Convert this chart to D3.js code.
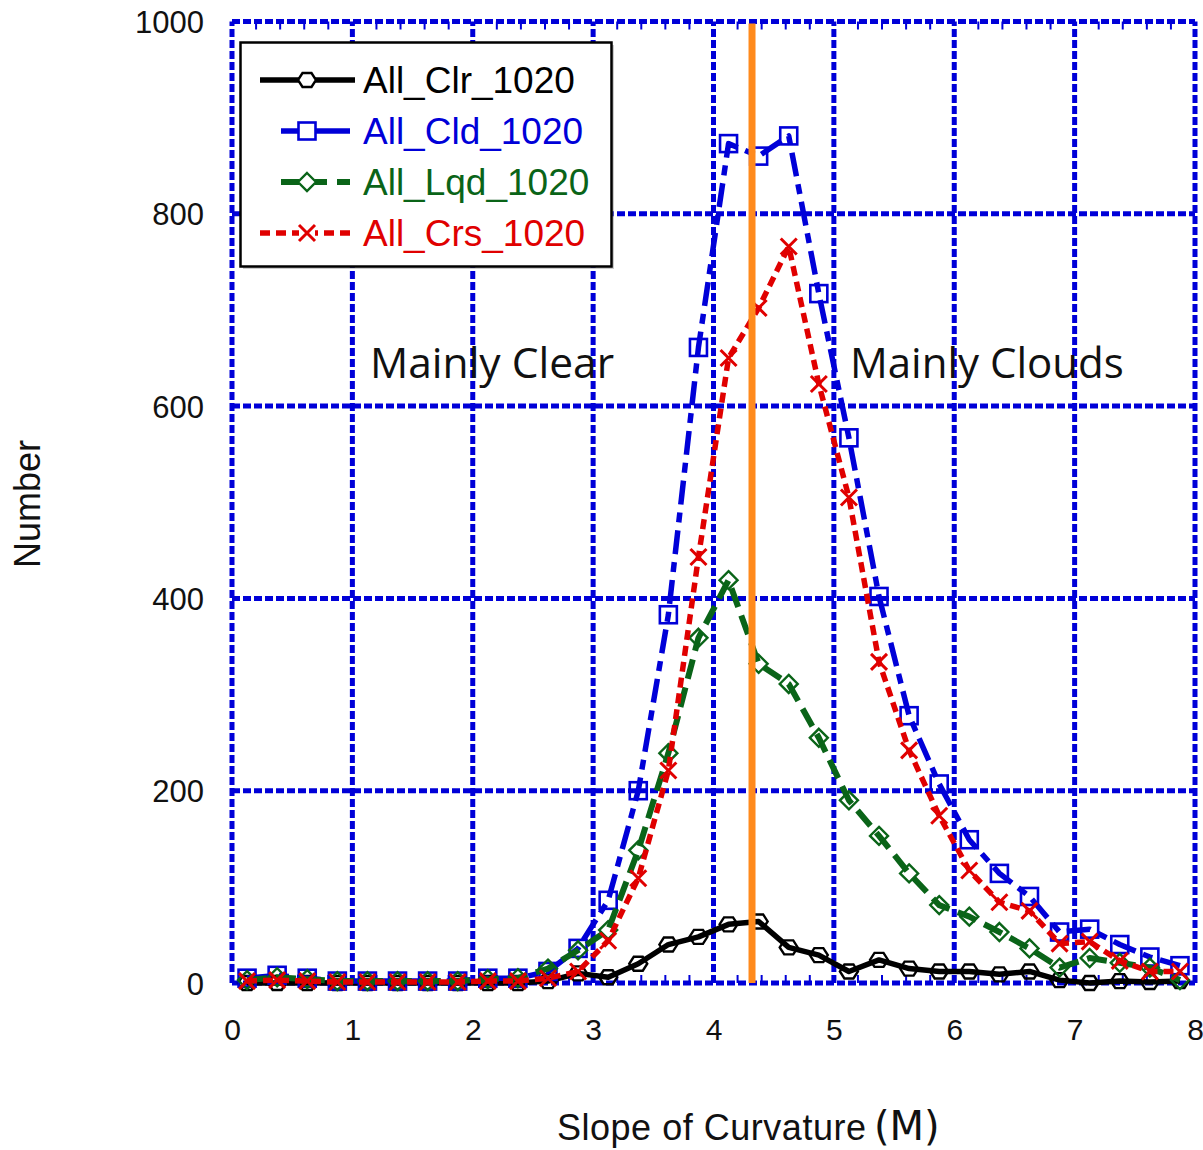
<!DOCTYPE html>
<html>
<head>
<meta charset="utf-8">
<script src="https://cdn.jsdelivr.net/npm/d3@7"></script>
<style>
  html, body { margin: 0; padding: 0; background: #fff; }
  svg { display: block; }
</style>
</head>
<body>
<svg id="chart" width="1203" height="1150"></svg>
<script>
// Bin centres of the slope-of-curvature histogram
const binCenters = [0.125, 0.375, 0.625, 0.875, 1.125, 1.375, 1.625, 1.875,
                    2.125, 2.375, 2.625, 2.875, 3.125, 3.375, 3.625, 3.875,
                    4.125, 4.375, 4.625, 4.875, 5.125, 5.375, 5.625, 5.875,
                    6.125, 6.375, 6.625, 6.875, 7.125, 7.375, 7.625, 7.875];

// Counts per bin for each class
const clrCounts = [0, 0, 0, 0, 0, 0, 0, 0, 0, 0, 2, 10, 6, 20, 40, 48,
                   61, 64, 37, 29, 12, 24, 15, 12, 12, 9, 12, 3, 0, 2, 1, 2];
const cldCounts = [5, 8, 5, 2, 2, 2, 2, 2, 5, 5, 12, 36, 86, 200, 383, 661,
                   873, 860, 881, 717, 567, 402, 278, 207, 149, 114, 90, 53, 56, 40, 27, 18];
const lqdCounts = [3, 6, 4, 2, 2, 2, 2, 2, 4, 5, 15, 34, 55, 138, 239, 359,
                   419, 332, 311, 255, 190, 153, 114, 81, 69, 53, 36, 16, 26, 21, 16, 3];
const crsCounts = [2, 3, 2, 1, 1, 1, 1, 1, 2, 2, 5, 12, 44, 109, 221, 443,
                   650, 702, 766, 623, 505, 334, 242, 174, 117, 84, 75, 41, 43, 23, 12, 12];

const seriesNames = ["All_Clr_1020", "All_Cld_1020", "All_Lqd_1020", "All_Crs_1020"];
const xTicks = [0, 1, 2, 3, 4, 5, 6, 7, 8];
const yTicks = [0, 200, 400, 600, 800, 1000];
const dividerX = 4.32;   // threshold separating clear from cloudy

const svg = d3.select("#chart");
const x = d3.scaleLinear().domain([0, 8]).range([232, 1195]);
const y = d3.scaleLinear().domain([0, 1000]).range([983, 21.5]);

const gridBlue = "#0000d8";

// grid lines (dashed, including the frame)
const grid = svg.append("g");
grid.selectAll(".vg").data(xTicks).enter().append("line")
  .attr("x1", d => x(d)).attr("x2", d => x(d))
  .attr("y1", y(0)).attr("y2", y(1000))
  .attr("stroke", gridBlue).attr("stroke-width", 5).attr("stroke-dasharray", "8,3");
grid.selectAll(".hg").data(yTicks).enter().append("line")
  .attr("x1", x(0)).attr("x2", x(8))
  .attr("y1", d => y(d)).attr("y2", d => y(d))
  .attr("stroke", gridBlue).attr("stroke-width", 5).attr("stroke-dasharray", "8,3");

// minor ticks on top and bottom
const minorX = d3.range(0, 8.001, 0.2).filter(v => Math.abs(v - Math.round(v)) > 1e-6);
grid.selectAll(".mt").data(minorX).enter().append("line")
  .attr("x1", d => x(d)).attr("x2", d => x(d))
  .attr("y1", y(1000)).attr("y2", y(1000) + 8)
  .attr("stroke", gridBlue).attr("stroke-width", 2);
grid.selectAll(".mb").data(minorX).enter().append("line")
  .attr("x1", d => x(d)).attr("x2", d => x(d))
  .attr("y1", y(0)).attr("y2", y(0) - 8)
  .attr("stroke", gridBlue).attr("stroke-width", 2);

// axes labels via d3 axes (lines hidden)
const xAxis = svg.append("g").attr("transform", `translate(0,${y(0)})`)
  .call(d3.axisBottom(x).tickValues(xTicks).tickSize(0).tickPadding(0).tickFormat(d3.format("d")));
xAxis.select(".domain").remove();
xAxis.selectAll("text").attr("dy", null).attr("y", 57)
  .attr("font-family", "Liberation Sans, Arial, sans-serif").attr("font-size", 30).attr("fill", "#111");

const yAxis = svg.append("g").attr("transform", `translate(${x(0)},0)`)
  .call(d3.axisLeft(y).tickValues(yTicks).tickSize(0).tickPadding(0).tickFormat(d3.format("d")));
yAxis.select(".domain").remove();
yAxis.selectAll("text").attr("x", -28).attr("dy", "0.36em")
  .attr("font-family", "Liberation Sans, Arial, sans-serif").attr("font-size", 31).attr("fill", "#111");

// marker shapes
function marker(g, kind, color) {
  if (kind === "hex") {
    g.append("path").attr("d", "M-9,0 L-4.5,-7 L4.5,-7 L9,0 L4.5,7 L-4.5,7 Z")
      .attr("fill", "none").attr("stroke", color).attr("stroke-width", 2.4);
  } else if (kind === "square") {
    g.append("rect").attr("x", -8.5).attr("y", -8.5).attr("width", 17).attr("height", 17)
      .attr("fill", "none").attr("stroke", color).attr("stroke-width", 2.6);
  } else if (kind === "diamond") {
    g.append("path").attr("d", "M0,-9 L9,0 L0,9 L-9,0 Z")
      .attr("fill", "none").attr("stroke", color).attr("stroke-width", 2.4);
  } else if (kind === "x") {
    g.append("path").attr("d", "M-8,-8 L8,8 M-8,8 L8,-8")
      .attr("fill", "none").attr("stroke", color).attr("stroke-width", 3);
  }
}

const series = [
  { name: seriesNames[0], values: clrCounts, color: "#000000", dash: null, marker: "hex", width: 5.5 },
  { name: seriesNames[1], values: cldCounts, color: "#0000d8", dash: "24,8,10,8", marker: "square", width: 5.5 },
  { name: seriesNames[2], values: lqdCounts, color: "#0a6418", dash: "20,9", marker: "diamond", width: 6 },
  { name: seriesNames[3], values: crsCounts, color: "#e00000", dash: "10,6", marker: "x", width: 5.5 }
];

const line = d3.line().x(d => x(d[0])).y(d => y(d[1]));
const plot = svg.append("g");
series.forEach(s => {
  const pts = binCenters.map((c, i) => [c, s.values[i]]);
  plot.append("path").datum(pts).attr("d", line)
    .attr("fill", "none").attr("stroke", s.color).attr("stroke-width", s.width)
    .attr("stroke-linejoin", "round")
    .attr("stroke-dasharray", s.dash);
  pts.forEach(p => {
    const g = plot.append("g").attr("transform", `translate(${x(p[0])},${y(p[1])})`);
    marker(g, s.marker, s.color);
  });
});

// threshold line
svg.append("line")
  .attr("x1", x(dividerX)).attr("x2", x(dividerX))
  .attr("y1", y(1000) + 2).attr("y2", y(0))
  .attr("stroke", "#ff8a1c").attr("stroke-width", 7);

// region annotations
svg.append("text").attr("x", 370).attr("y", 378)
  .attr("font-family", "Open Sans, sans-serif").attr("font-size", 42.5).attr("fill", "#111")
  .text("Mainly Clear");
svg.append("text").attr("x", 850).attr("y", 378)
  .attr("font-family", "Open Sans, sans-serif").attr("font-size", 42).attr("fill", "#111")
  .text("Mainly Clouds");

// legend
const legend = svg.append("g");
legend.append("rect").attr("x", 243).attr("y", 45).attr("width", 371).attr("height", 224)
  .attr("fill", "#999").attr("opacity", 0.5);
legend.append("rect").attr("x", 240.5).attr("y", 42.5).attr("width", 371).attr("height", 224)
  .attr("fill", "#fff").attr("stroke", "#000").attr("stroke-width", 2.5);

const legendRows = [
  { x1: 260, x2: 355 }, { x1: 281, x2: 350 }, { x1: 281, x2: 350 }, { x1: 260, x2: 355 }
];
series.forEach((s, i) => {
  const cy = 80 + i * 51;
  legend.append("line").attr("x1", legendRows[i].x1).attr("x2", legendRows[i].x2)
    .attr("y1", cy).attr("y2", cy)
    .attr("stroke", s.color).attr("stroke-width", s.width)
    .attr("stroke-dasharray", i === 2 ? "18,10" : (i === 3 ? "10,6" : null));
  const g = legend.append("g").attr("transform", `translate(307,${cy})`);
  g.append("rect").attr("x", -8).attr("y", -8).attr("width", 16).attr("height", 16).attr("fill", "#fff");
  marker(g, s.marker, s.color);
  legend.append("text").attr("x", 363).attr("y", cy + 13)
    .attr("font-family", "Liberation Sans, Arial, sans-serif").attr("font-size", 37)
    .attr("fill", s.color).text(s.name);
});

// axis titles
svg.append("text")
  .attr("transform", "translate(40,504) rotate(-90)")
  .attr("text-anchor", "middle")
  .attr("font-family", "Liberation Sans, Arial, sans-serif").attr("font-size", 36).attr("fill", "#111")
  .text("Number");

const xt = svg.append("text").attr("x", 557).attr("y", 1140)
  .attr("font-family", "Liberation Sans, Arial, sans-serif").attr("fill", "#111");
xt.append("tspan").attr("font-size", 36).attr("textLength", 309).attr("lengthAdjust", "spacing")
  .text("Slope of Curvature");
xt.append("tspan").attr("x", 874).attr("font-size", 40).attr("font-family", "DejaVu Sans, sans-serif").text("(M)");
</script>
</body>
</html>
